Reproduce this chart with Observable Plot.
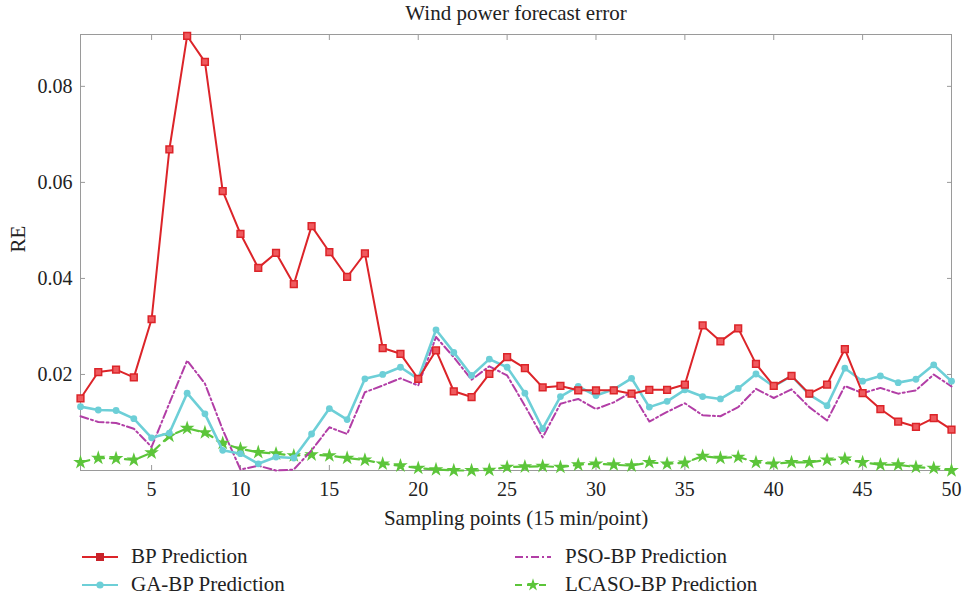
<!DOCTYPE html>
<html>
<head>
<meta charset="utf-8">
<script src="https://cdn.jsdelivr.net/npm/d3@7"></script>
<script src="https://cdn.jsdelivr.net/npm/@observablehq/plot@0.6"></script>
<style>
  body { margin: 0; background: #fff; font-family: 'Liberation Serif', 'Times New Roman', 'DejaVu Serif', serif; color: #222; }
  #wrap { position: relative; width: 963px; height: 601px; }
  #wrap svg text { font-family: 'Liberation Serif', 'Times New Roman', 'DejaVu Serif', serif; }
  .leg { position: absolute; font-size: 21px; line-height: 21px; white-space: nowrap; }
  .leg svg { position: absolute; left: 0; top: -9px; overflow: visible; }
  .leg span { position: absolute; top: -11px; }
</style>
</head>
<body>
<div id="wrap"></div>
<script>
const xs = d3.range(1, 51);
const bp = [0.0150,0.0205,0.0210,0.0194,0.0315,0.0669,0.0905,0.0851,0.0582,0.0493,
            0.0422,0.0453,0.0388,0.0509,0.0455,0.0403,0.0452,0.0255,0.0243,0.0191,
            0.0250,0.0165,0.0153,0.0201,0.0236,0.0213,0.0173,0.0176,0.0167,0.0167,
            0.0167,0.0160,0.0168,0.0168,0.0179,0.0302,0.0269,0.0296,0.0222,0.0176,
            0.0197,0.0160,0.0179,0.0253,0.0161,0.0128,0.0102,0.0091,0.0109,0.0085];
const ga = [0.0133,0.0126,0.0125,0.0108,0.0068,0.0078,0.0161,0.0118,0.0042,0.0035,
            0.0014,0.0028,0.0026,0.0076,0.0129,0.0106,0.0191,0.0200,0.0215,0.0191,
            0.0293,0.0246,0.0198,0.0232,0.0215,0.0161,0.0087,0.0154,0.0175,0.0156,
            0.0169,0.0192,0.0132,0.0144,0.0168,0.0154,0.0149,0.0171,0.0201,0.0175,
            0.0197,0.0158,0.0135,0.0213,0.0186,0.0197,0.0183,0.0190,0.0220,0.0186];
const pso = [0.0113,0.0101,0.0099,0.0087,0.0049,0.0140,0.0229,0.0181,0.0085,0.0002,
             0.0010,0.0000,0.0002,0.0042,0.0090,0.0076,0.0163,0.0177,0.0192,0.0177,
             0.0278,0.0236,0.0189,0.0217,0.0198,0.0135,0.0069,0.0139,0.0149,0.0128,
             0.0142,0.0163,0.0102,0.0122,0.0140,0.0115,0.0113,0.0132,0.0170,0.0151,
             0.0169,0.0132,0.0104,0.0176,0.0161,0.0172,0.0160,0.0167,0.0200,0.0175];
const lcaso = [0.0017,0.0026,0.0025,0.0022,0.0037,0.0072,0.0088,0.0079,0.0057,0.0045,
               0.0038,0.0035,0.0031,0.0033,0.0031,0.0026,0.0022,0.0014,0.0010,0.0005,
               0.0002,0.0000,0.0000,0.0001,0.0007,0.0008,0.0009,0.0007,0.0012,0.0014,
               0.0012,0.0010,0.0017,0.0014,0.0016,0.0030,0.0026,0.0028,0.0017,0.0014,
               0.0017,0.0017,0.0022,0.0024,0.0017,0.0012,0.0012,0.0007,0.0005,0.0000];
const xTicks = [5,10,15,20,25,30,35,40,45,50];
const yTicks = [0.02,0.04,0.06,0.08];
const seriesNames = ["BP Prediction","GA-BP Prediction","PSO-BP Prediction","LCASO-BP Prediction"];
const colors = {bp: "#dc2429", ga: "#6dcfd7", pso: "#b23ea6", lc: "#5cc53a"};

const rows = (arr) => xs.map((x, i) => ({x, y: arr[i]}));
const BP = rows(bp), GA = rows(ga), PSO = rows(pso), LC = rows(lcaso);
const FONT = "'Liberation Serif', 'Times New Roman', 'DejaVu Serif', serif";

const chart = Plot.plot({
  width: 963,
  height: 540,
  marginTop: 34,
  marginLeft: 80,
  marginRight: 12,
  marginBottom: 70,
  style: {fontFamily: FONT, fontSize: "20px", color: "#222", background: "#fff"},
  x: {domain: [1, 50]},
  y: {domain: [0, 0.0908]},
  marks: [
    Plot.frame({stroke: "#9a9a9a", strokeWidth: 1}),
    Plot.axisX({ticks: xTicks, tickSize: -5, tickPadding: 16, stroke: "#9a9a9a", fontSize: 20,
      tickFormat: d => String(d), label: null}),
    Plot.axisX({anchor: "top", ticks: xTicks, tickSize: -5, tickFormat: () => "", stroke: "#9a9a9a", label: null}),
    Plot.axisY({ticks: yTicks, tickSize: -5, tickPadding: 13, tickFormat: d => d.toFixed(2), stroke: "#9a9a9a", fontSize: 20,
      label: null}),
    Plot.axisY({anchor: "right", ticks: yTicks, tickSize: -5, tickFormat: () => "", stroke: "#9a9a9a", label: null}),
    Plot.line(LC, {x: "x", y: "y", stroke: colors.lc, strokeWidth: 2.2, strokeDasharray: "9,6"}),
    Plot.dot(LC, {x: "x", y: "y", symbol: "star", r: 4.6, fill: colors.lc, stroke: "none"}),
    Plot.line(PSO, {x: "x", y: "y", stroke: colors.pso, strokeWidth: 2, strokeDasharray: "8,3,2,3"}),
    Plot.line(GA, {x: "x", y: "y", stroke: colors.ga, strokeWidth: 2.6}),
    Plot.dot(GA, {x: "x", y: "y", r: 3.4, fill: colors.ga, stroke: "none"}),
    Plot.line(BP, {x: "x", y: "y", stroke: colors.bp, strokeWidth: 2}),
    Plot.dot(BP, {x: "x", y: "y", symbol: "square", r: 3.8, fill: "#ef5a5e", stroke: colors.bp, strokeWidth: 1.5}),
    Plot.text(["Wind power forecast error"], {frameAnchor: "top", dy: -21, fontSize: 21, lineAnchor: "middle", fill: "#222"}),
    Plot.text(["Sampling points (15 min/point)"], {frameAnchor: "bottom", dy: 48, fontSize: 21, lineAnchor: "middle", fill: "#222"}),
    Plot.text(["RE"], {frameAnchor: "left", dx: -62, rotate: -90, fontSize: 21, lineAnchor: "middle", fill: "#222"})
  ]
});
const wrap = document.getElementById("wrap");
wrap.appendChild(chart);

// Legend
const legendItems = [
  {name: seriesNames[0], color: colors.bp, dash: null, marker: "square", left: 82, top: 557, textLeft: 131},
  {name: seriesNames[1], color: colors.ga, dash: null, marker: "circle", left: 82, top: 585, textLeft: 131},
  {name: seriesNames[2], color: colors.pso, dash: "8,3,2,3", marker: null, left: 515, top: 557, textLeft: 565},
  {name: seriesNames[3], color: colors.lc, dash: "7,5", marker: "star", left: 515, top: 585, textLeft: 565}
];
for (const it of legendItems) {
  const d = document.createElement("div");
  d.className = "leg";
  d.style.left = it.left + "px";
  d.style.top = it.top + "px";
  const w = 36;
  let m = "";
  if (it.marker === "square") m = `<rect x="${w/2-4}" y="5" width="8" height="8" fill="#c8232a"/>`;
  if (it.marker === "circle") m = `<circle cx="${w/2}" cy="9" r="3.6" fill="${it.color}"/>`;
  if (it.marker === "star") m = `<path transform="translate(${w/2},9)" d="${d3.symbol(d3.symbolStar, 50)()}" fill="${it.color}"/>`;
  d.innerHTML = `<svg width="${w}" height="18"><line x1="0" x2="${w}" y1="9" y2="9" stroke="${it.color}" stroke-width="1.8" ${it.dash ? `stroke-dasharray="${it.dash}"` : ""}/>${m}</svg>` +
    `<span style="left:${it.textLeft - it.left}px">${it.name}</span>`;
  wrap.appendChild(d);
}
</script>
</body>
</html>
